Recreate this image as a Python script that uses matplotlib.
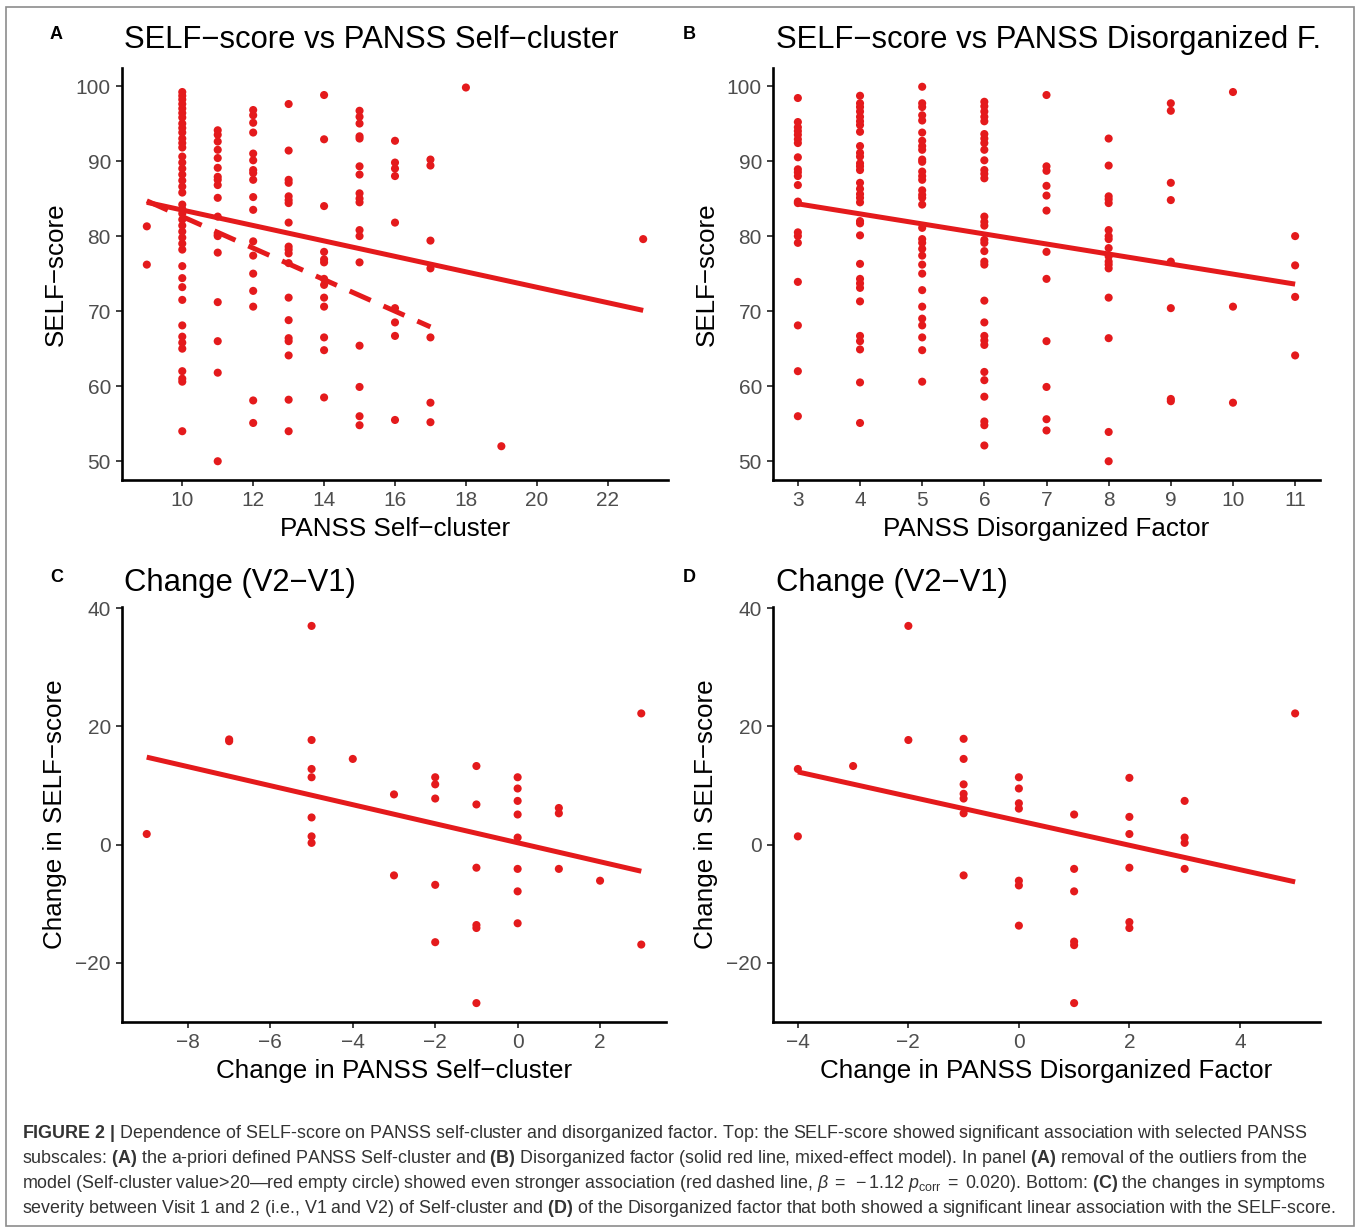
import matplotlib
matplotlib.use("Agg")
import matplotlib.pyplot as plt
from matplotlib.patches import Rectangle

plt.rcParams['font.family'] = ['Liberation Sans', 'DejaVu Sans']
plt.rcParams['mathtext.fontset'] = 'custom'
plt.rcParams['mathtext.rm'] = 'Liberation Sans'
plt.rcParams['mathtext.it'] = 'Liberation Sans:italic'
plt.rcParams['mathtext.bf'] = 'Liberation Sans:bold'

RED = '#e41a1c'
MINUS = '\u2212'

# panel A: PANSS Self-cluster vs SELF-score
a_cols = [9, 10, 11, 12, 13, 14, 15, 16, 17, 18, 19, 23]
a_vals = [
    [81.3, 76.2],
    [99.2, 98.7, 98.2, 97.6, 97.0, 96.4, 95.8, 95.0, 94.4, 93.8, 93.0, 92.4,
     91.8, 90.6, 89.8, 89.0, 88.2, 87.4, 86.6, 85.8, 84.2, 83.6, 83.0, 82.2,
     81.4, 80.6, 79.8, 79.0, 78.2, 76.0, 74.4, 73.2, 71.5, 68.1, 66.6, 65.8,
     65.0, 62.0, 61.0, 60.6, 54.0],
    [94.1, 93.5, 92.6, 91.5, 90.4, 89.1, 87.9, 87.5, 86.8, 85.1, 82.6, 80.2,
     80.0, 77.8, 71.2, 66.0, 61.8, 50.0],
    [96.8, 96.1, 95.1, 93.8, 91.0, 90.1, 88.8, 88.4, 87.5, 85.2, 83.5, 79.3,
     77.4, 75.0, 72.7, 70.6, 58.1, 55.1],
    [97.6, 91.4, 87.5, 87.1, 85.3, 84.8, 84.4, 81.8, 78.6, 78.2, 77.7, 76.4,
     71.8, 68.8, 66.4, 66.0, 64.1, 58.2, 54.0],
    [98.8, 92.9, 84.0, 77.9, 76.9, 76.5, 74.3, 73.5, 71.8, 70.6, 66.5, 64.8, 58.5],
    [96.7, 95.9, 95.0, 93.3, 93.0, 89.3, 88.2, 85.7, 85.0, 84.5, 80.8, 80.0,
     76.5, 65.4, 59.9, 56.0, 54.8],
    [92.7, 89.8, 89.0, 88.0, 81.8, 70.4, 68.5, 66.7, 55.5],
    [90.2, 89.4, 79.4, 75.7, 66.5, 57.8, 55.2],
    [99.8],
    [52.0],
    [79.6],
]
a_fit_x = [9, 23]
a_fit_y = [84.5, 70.1]
a_dash_x = [9, 17]
a_dash_y = [84.7, 67.9]

# panel B: PANSS Disorganized factor vs SELF-score
b_cols = [3, 4, 5, 6, 7, 8, 9, 10, 11]
b_vals = [
    [98.4, 95.2, 94.5, 94.0, 93.5, 92.9, 92.4, 90.5, 88.9, 88.5, 88.0, 86.8,
     84.6, 84.4, 80.5, 80.0, 79.1, 73.9, 68.1, 62.0, 56.0],
    [98.7, 97.7, 97.2, 96.6, 95.9, 95.3, 94.8, 93.9, 92.0, 91.1, 90.6, 89.7,
     89.3, 88.8, 87.1, 86.3, 85.6, 85.1, 84.5, 82.0, 81.7, 80.1, 76.3, 74.3,
     73.7, 73.1, 71.3, 66.7, 66.0, 64.9, 60.5, 55.1],
    [99.9, 97.7, 97.2, 96.1, 95.4, 93.8, 92.7, 92.0, 91.5, 90.2, 89.9, 88.6,
     88.0, 87.5, 86.1, 85.5, 85.1, 84.2, 81.1, 79.6, 79.1, 78.3, 77.4, 76.2,
     75.0, 72.8, 70.6, 69.0, 68.1, 66.5, 64.8, 60.6],
    [97.9, 97.3, 96.6, 95.9, 95.3, 93.6, 93.0, 92.4, 91.5, 90.1, 88.8, 88.3,
     87.7, 82.6, 81.9, 81.4, 79.5, 79.1, 78.0, 76.6, 76.2, 71.4, 68.5, 66.7,
     66.1, 65.5, 61.9, 60.8, 58.6, 55.3, 54.8, 52.1],
    [98.8, 89.3, 88.7, 86.7, 85.4, 83.4, 77.9, 74.3, 66.0, 59.9, 55.6, 54.1],
    [93.0, 89.4, 85.3, 84.9, 84.4, 80.8, 80.0, 79.6, 78.4, 77.3, 76.6, 76.2,
     75.7, 71.8, 66.4, 53.9, 50.0],
    [97.7, 96.7, 87.1, 84.8, 76.6, 70.4, 58.3, 58.0],
    [99.2, 70.6, 57.8],
    [80.0, 76.1, 71.9, 64.1],
]
b_fit_x = [3, 11]
b_fit_y = [84.3, 73.6]

# panel C: change in Self-cluster vs change in SELF-score
c_cols = [-9, -7, -5, -4, -3, -2, -1, 0, 1, 2, 3]
c_vals = [
    [1.8],
    [17.8, 17.5],
    [37.0, 17.7, 12.8, 11.4, 4.6, 1.4, 0.3],
    [14.5],
    [8.5, -5.2],
    [11.4, 10.2, 7.8, -6.8, -16.5],
    [13.3, 6.8, -3.9, -13.6, -14.1, -26.8],
    [11.4, 9.5, 7.4, 5.1, 1.2, -4.1, -7.9, -13.3],
    [6.2, 5.3, -4.1],
    [-6.1],
    [22.2, -16.9],
]
c_fit_x = [-9, 3]
c_fit_y = [14.8, -4.5]

# panel D: change in Disorganized factor vs change in SELF-score
d_cols = [-4, -3, -2, -1, 0, 1, 2, 3, 5]
d_vals = [
    [12.8, 1.4],
    [13.3],
    [37.0, 17.7],
    [17.9, 14.5, 10.2, 8.6, 7.8, 5.3, -5.2],
    [11.4, 9.5, 7.0, 6.1, -6.1, -6.9, -13.7],
    [5.1, -4.1, -7.9, -16.4, -17.0, -26.8],
    [11.3, 4.7, 1.8, -3.9, -13.1, -14.1],
    [7.4, 1.2, 0.3, -4.1],
    [22.2],
]
d_fit_x = [-4, 5]
d_fit_y = [12.3, -6.3]

W, H = 1360, 1228
fig = plt.figure(figsize=(W / 100, H / 100), dpi=100)


def px_axes(l, t, r, b):
    return fig.add_axes([l / W, 1 - b / H, (r - l) / W, (b - t) / H])


def style(ax, xlim, ylim, xticks, yticks, xlabel, ylabel):
    ax.set_xlim(*xlim)
    ax.set_ylim(*ylim)
    ax.set_xticks(xticks)
    ax.set_yticks(yticks)
    ax.set_xticklabels([str(t).replace('-', MINUS) for t in xticks])
    ax.set_yticklabels([str(t).replace('-', MINUS) for t in yticks])
    for s in ['top', 'right']:
        ax.spines[s].set_visible(False)
    for s in ['left', 'bottom']:
        ax.spines[s].set_linewidth(1.9)
        ax.spines[s].set_color('black')
    ax.tick_params(length=4, width=1.3, color='#333333', labelsize=15,
                   labelcolor='#4d4d4d', pad=4)
    ax.set_xlabel(xlabel, fontsize=18.7, color='black', labelpad=5)
    ax.set_ylabel(ylabel, fontsize=18.7, color='black', labelpad=6)


def scatter_cols(ax, cols, vals):
    xs, ys = [], []
    for c, v in zip(cols, vals):
        xs += [c] * len(v)
        ys += v
    ax.scatter(xs, ys, s=34, color=RED, edgecolors='none', zorder=3)


axA = px_axes(122, 68, 668, 480)
scatter_cols(axA, a_cols, a_vals)
axA.plot(a_fit_x, a_fit_y, color=RED, lw=3.6, solid_capstyle='butt', zorder=4)
axA.plot(a_dash_x, a_dash_y, color=RED, lw=3.6, dashes=(4.6, 2.8),
         dash_capstyle='butt', zorder=4)
style(axA, (8.3, 23.7), (47.5, 102.4), [10, 12, 14, 16, 18, 20, 22],
      [50, 60, 70, 80, 90, 100], 'PANSS Self' + MINUS + 'cluster', 'SELF' + MINUS + 'score')

axB = px_axes(773, 68, 1320, 480)
scatter_cols(axB, b_cols, b_vals)
axB.plot(b_fit_x, b_fit_y, color=RED, lw=3.6, solid_capstyle='butt', zorder=4)
style(axB, (2.6, 11.4), (47.5, 102.4), list(range(3, 12)),
      [50, 60, 70, 80, 90, 100], 'PANSS Disorganized Factor', 'SELF' + MINUS + 'score')

axC = px_axes(122, 607, 666, 1022)
scatter_cols(axC, c_cols, c_vals)
axC.plot(c_fit_x, c_fit_y, color=RED, lw=3.6, solid_capstyle='butt', zorder=4)
style(axC, (-9.6, 3.6), (-30, 40.2), [-8, -6, -4, -2, 0, 2], [-20, 0, 20, 40],
      'Change in PANSS Self' + MINUS + 'cluster', 'Change in SELF' + MINUS + 'score')

axD = px_axes(773, 607, 1320, 1022)
scatter_cols(axD, d_cols, d_vals)
axD.plot(d_fit_x, d_fit_y, color=RED, lw=3.6, solid_capstyle='butt', zorder=4)
style(axD, (-4.45, 5.45), (-30, 40.2), [-4, -2, 0, 2, 4], [-20, 0, 20, 40],
      'Change in PANSS Disorganized Factor', 'Change in SELF' + MINUS + 'score')

# titles and panel letters
titles = [(124, 48, 'SELF' + MINUS + 'score vs PANSS Self' + MINUS + 'cluster'),
          (776, 48, 'SELF' + MINUS + 'score vs PANSS Disorganized F.'),
          (124, 591, 'Change (V2' + MINUS + 'V1)'),
          (776, 591, 'Change (V2' + MINUS + 'V1)')]
for x, y, t in titles:
    fig.text(x / W, 1 - y / H, t, fontsize=22.3, va='baseline', ha='left')

letters = [(50, 39, 'A'), (683, 39, 'B'), (50, 582, 'C'), (683, 582, 'D')]
for x, y, t in letters:
    fig.text(x / W, 1 - y / H, t, fontsize=13, fontweight='bold', va='baseline', ha='left')

# caption
caption = [
    r'$\mathbf{FIGURE\ 2\ |}$ Dependence of SELF-score on PANSS self-cluster and disorganized factor. '
    'Top: the SELF-score showed significant association with selected PANSS',
    r'subscales: $\mathbf{(A)}$ the a-priori defined PANSS Self-cluster and $\mathbf{(B)}$ Disorganized '
    r'factor (solid red line, mixed-effect model). In panel $\mathbf{(A)}$ removal of the outliers from the',
    'model (Self-cluster value>20\u2014red empty circle) showed even stronger association (red dashed line, '
    r'$\beta\;=\;-1.12\ p_{\rm corr}\;=\;0.020$). Bottom: $\mathbf{(C)}$ the changes in symptoms',
    'severity between Visit 1 and 2 (i.e., V1 and V2) of Self-cluster and '
    r'$\mathbf{(D)}$ of the Disorganized factor that both showed a significant linear association with the SELF-score.',
]
for i, line in enumerate(caption):
    fig.text(22 / W, 1 - (1138 + 25 * i) / H, line, fontsize=12.85, color='#333333',
             va='baseline', ha='left')

fig.patches.append(Rectangle((6 / W, 1 - 1226 / H), 1348 / W, 1219 / H,
                             transform=fig.transFigure, fill=False,
                             edgecolor='#8c8c8c', lw=1.2))

fig.savefig('out.png', dpi=100)
